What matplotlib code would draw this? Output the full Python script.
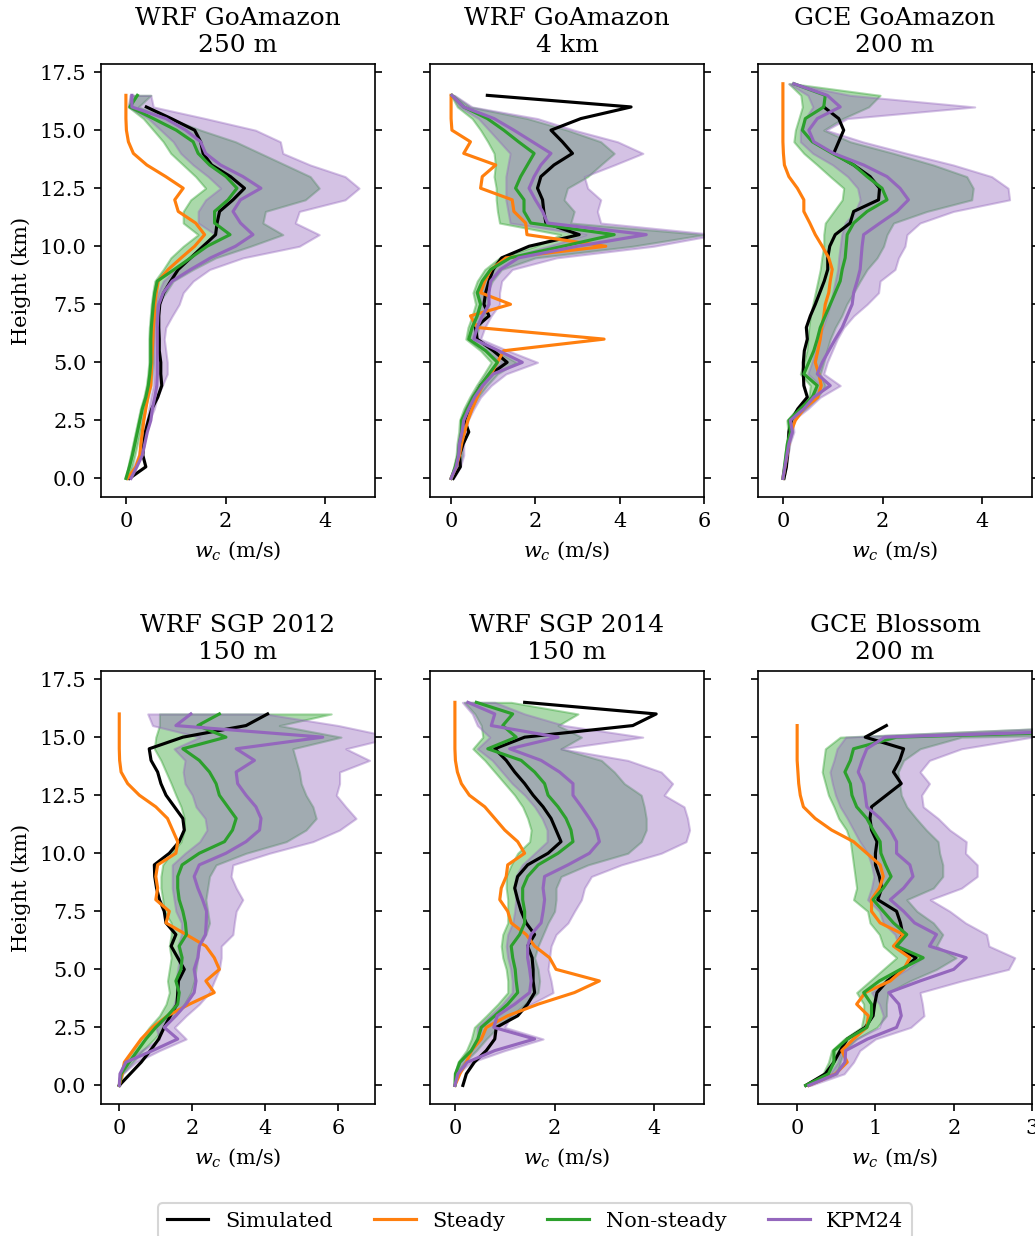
import numpy as np
import matplotlib
matplotlib.use("Agg")
import matplotlib.pyplot as plt

plt.rcParams["font.family"] = ["DejaVu Serif"]
plt.rcParams["mathtext.fontset"] = "dejavuserif"
plt.rcParams["font.size"] = 10

nan = np.nan

titles = ["WRF GoAmazon\n250 m", "WRF GoAmazon\n4 km", "GCE GoAmazon\n200 m",
          "WRF SGP 2012\n150 m", "WRF SGP 2014\n150 m", "GCE Blossom\n200 m"]
xlims = [(-0.5, 5), (-0.5, 6), (-0.5, 5), (-0.5, 7), (-0.5, 5), (-0.5, 3)]
series_labels = ["Simulated", "Steady", "Non-steady", "KPM24"]

# ---------------- WRF GoAmazon 250 m ----------------
z1 = np.arange(0, 16.51, 0.5)
sim1 = [0.07, 0.40, 0.34, 0.36, 0.39, 0.45, 0.52, 0.64, 0.72, 0.70, 0.70, 0.67, 0.67, 0.66, 0.66, 0.68, 0.76, 0.90,
        1.05, 1.30, 1.55, 1.80, 1.83, 1.88, 2.15, 2.38, 2.10, 1.72, 1.55, 1.50, 1.38, 0.91, 0.41, nan]
std1 = [0.03, 0.20, 0.28, 0.30, 0.33, 0.36, 0.40, 0.44, 0.50, 0.51, 0.52, 0.53, 0.54, 0.55, 0.57, 0.58, 0.61, 0.65,
        0.85, 1.11, 1.38, 1.58, 1.40, 1.05, 0.98, 1.15, 0.80, 0.42, 0.15, 0.05, 0.01, 0.0, 0.0, 0.0]
ns1 = [0.0, 0.07, 0.13, 0.18, 0.23, 0.28, 0.33, 0.40, 0.45, 0.48, 0.50, 0.50, 0.50, 0.51, 0.53, 0.55, 0.58, 0.63,
       0.97, 1.30, 1.63, 2.09, 1.78, 1.78, 2.05, 2.23, 2.01, 1.68, 1.45, 1.35, 1.01, 0.55, 0.08, 0.23]
kpm1 = [0.10, 0.22, 0.33, 0.38, 0.43, 0.50, 0.53, 0.58, 0.62, 0.63, 0.63, 0.63, 0.63, 0.63, 0.64, 0.66, 0.75, 0.93,
        1.30, 1.70, 2.20, 2.55, 2.30, 2.15, 2.30, 2.71, 2.35, 1.90, 1.60, 1.50, 1.20, 0.80, 0.12, 0.12]
ns_lo1 = [0.0, 0.04, 0.09, 0.14, 0.19, 0.24, 0.29, 0.36, 0.41, 0.44, 0.46, 0.46, 0.46, 0.47, 0.49, 0.51, 0.54, 0.58,
          0.75, 0.90, 1.15, 1.45, 1.15, 1.15, 1.30, 1.60, 1.40, 1.15, 0.90, 0.75, 0.55, 0.35, 0.05, 0.10]
ns_hi1 = [0.03, 0.12, 0.18, 0.23, 0.28, 0.33, 0.38, 0.45, 0.50, 0.53, 0.55, 0.55, 0.56, 0.57, 0.60, 0.63, 0.80, 0.95,
          1.35, 1.80, 2.50, 3.15, 2.75, 2.80, 3.60, 3.88, 3.70, 3.20, 2.70, 2.20, 1.50, 0.88, 0.25, 0.50]
kpm_lo1 = [0.05, 0.15, 0.25, 0.30, 0.35, 0.42, 0.46, 0.50, 0.55, 0.56, 0.56, 0.56, 0.56, 0.56, 0.57, 0.60, 0.65, 0.75,
           1.00, 1.30, 1.50, 1.80, 1.45, 1.45, 1.60, 1.90, 1.65, 1.35, 1.10, 0.95, 0.70, 0.45, 0.05, 0.08]
kpm_hi1 = [0.10, 0.20, 0.27, 0.33, 0.40, 0.47, 0.57, 0.63, 0.73, 0.83, 0.83, 0.80, 0.77, 0.80, 0.93, 1.07, 1.15, 1.35,
           1.68, 2.35, 3.48, 3.88, 3.40, 3.48, 4.40, 4.68, 4.40, 3.70, 3.15, 3.10, 2.60, 1.60, 0.55, 0.50]

# ---------------- WRF GoAmazon 4 km ----------------
z2 = np.arange(0, 16.51, 0.5)
sim2 = [0.05, 0.22, 0.20, 0.29, 0.42, 0.32, 0.42, 0.55, 0.70, 0.95, 1.33, 1.00, 0.62, 0.58, 0.90, 0.78, 0.82, 0.90,
        1.00, 1.20, 1.85, 3.04, 2.25, 2.20, 2.17, 2.05, 2.13, 2.44, 2.88, 2.64, 2.37, 3.08, 4.27, 0.86]
std2 = [0.0, 0.12, 0.20, 0.25, 0.32, 0.40, 0.50, 0.62, 0.75, 0.95, 1.10, 1.25, 3.63, 0.62, 0.46, 1.41, 0.70, 0.80,
        0.95, 1.30, 3.67, 1.80, 1.77, 1.49, 1.45, 0.70, 0.74, 1.06, 0.30, 0.46, 0.02, 0.0, 0.0, 0.0]
ns2 = [0.0, 0.10, 0.17, 0.20, 0.25, 0.25, 0.38, 0.52, 0.70, 0.90, 1.10, 0.82, 0.42, 0.50, 0.62, 0.70, 0.62, 0.74,
       0.94, 1.40, 2.65, 3.87, 1.89, 1.73, 1.73, 1.53, 1.65, 1.81, 1.97, 1.60, 1.25, 0.86, 0.30, 0.02]
kpm2 = [0.0, 0.12, 0.18, 0.20, 0.26, 0.30, 0.42, 0.56, 0.75, 1.00, 1.69, 1.13, 0.54, 0.62, 0.74, 0.90, 0.90, 0.94,
        1.17, 1.60, 3.00, 4.63, 2.29, 2.17, 2.00, 1.85, 1.97, 2.13, 2.37, 1.93, 1.49, 1.02, 0.30, 0.02]
ns_lo2 = [0.0, 0.06, 0.12, 0.14, 0.18, 0.20, 0.30, 0.44, 0.60, 0.78, 0.95, 0.70, 0.35, 0.40, 0.50, 0.58, 0.52, 0.62,
          0.80, 1.15, 2.00, 2.60, 1.15, 1.10, 1.07, 1.07, 1.02, 1.05, 1.02, 0.87, 0.70, 0.50, 0.15, 0.0]
ns_hi2 = [0.04, 0.20, 0.26, 0.26, 0.30, 0.34, 0.48, 0.64, 0.85, 1.10, 1.55, 1.05, 0.58, 0.66, 0.80, 0.90, 0.85, 0.98,
          1.20, 2.00, 4.30, 6.00, 2.84, 2.92, 2.68, 2.76, 3.24, 3.55, 3.87, 3.55, 2.76, 1.81, 0.45, 0.06]
kpm_lo2 = [0.0, 0.08, 0.14, 0.16, 0.21, 0.24, 0.34, 0.48, 0.65, 0.85, 1.20, 0.80, 0.42, 0.48, 0.58, 0.68, 0.64, 0.72,
           0.95, 1.30, 2.30, 3.20, 1.40, 1.35, 1.30, 1.30, 1.30, 1.35, 1.40, 1.15, 0.90, 0.65, 0.20, 0.0]
kpm_hi2 = [0.06, 0.22, 0.30, 0.30, 0.36, 0.40, 0.54, 0.70, 0.95, 1.30, 2.05, 1.35, 0.70, 0.80, 0.95, 1.15, 1.15, 1.20,
           1.45, 2.50, 4.80, 6.30, 3.55, 3.47, 3.55, 3.24, 3.16, 3.87, 4.55, 3.95, 2.92, 2.05, 0.50, 0.08]

# ---------------- GCE GoAmazon 200 m ----------------
z3 = np.arange(0, 17.01, 0.5)
sim3 = [0.02, 0.07, 0.09, 0.11, 0.12, 0.17, 0.30, 0.49, 0.42, 0.41, 0.41, 0.43, 0.49, 0.47, 0.55, 0.65, 0.74, 0.83,
        0.90, 0.90, 0.94, 1.05, 1.35, 1.42, 1.92, 1.94, 1.75, 1.42, 1.02, 1.12, 1.22, 1.12, 0.82, nan, nan]
std3 = [0.0, 0.04, 0.08, 0.12, 0.16, 0.25, 0.42, 0.70, 0.77, 0.72, 0.65, 0.70, 0.75, 0.78, 0.82, 0.85, 0.92, 0.95,
        0.99, 0.92, 0.79, 0.65, 0.54, 0.42, 0.42, 0.29, 0.12, 0.03, 0.01, 0.0, 0.0, 0.0, 0.0, 0.0, 0.0]
ns3 = [0.0, 0.03, 0.06, 0.09, 0.15, 0.12, 0.35, 0.59, 0.69, 0.42, 0.52, 0.62, 0.69, 0.75, 0.85, 0.95, 1.05, 1.15,
       1.19, 1.25, 1.27, 1.29, 1.42, 1.69, 2.09, 1.99, 1.69, 1.42, 0.99, 0.59, 0.39, 0.45, 0.82, 0.85, 0.22]
kpm3 = [0.0, 0.04, 0.08, 0.12, 0.19, 0.15, 0.42, 0.62, 0.95, 0.69, 0.79, 0.92, 1.05, 1.19, 1.29, 1.39, 1.42, 1.49,
        1.55, 1.57, 1.59, 1.62, 1.95, 2.29, 2.52, 2.35, 2.09, 1.62, 1.02, 0.62, 0.52, 0.69, 1.15, 0.89, 0.22]
ns_lo3 = [0.0, 0.02, 0.04, 0.07, 0.10, 0.08, 0.28, 0.52, 0.55, 0.35, 0.42, 0.48, 0.50, 0.52, 0.55, 0.60, 0.65, 0.70,
          0.75, 0.78, 0.82, 0.82, 0.85, 1.02, 1.19, 1.22, 0.95, 0.69, 0.42, 0.22, 0.25, 0.32, 0.39, 0.36, 0.12]
ns_hi3 = [0.02, 0.06, 0.10, 0.13, 0.19, 0.17, 0.45, 0.70, 0.85, 0.75, 0.82, 0.88, 0.95, 1.05, 1.18, 1.28, 1.42, 1.55,
          1.69, 1.89, 2.02, 2.09, 2.22, 2.89, 3.79, 3.82, 3.69, 3.02, 2.22, 1.35, 0.82, 1.20, 1.72, 1.95, 0.20]
kpm_lo3 = [0.0, 0.03, 0.06, 0.09, 0.14, 0.12, 0.33, 0.55, 0.75, 0.50, 0.58, 0.65, 0.72, 0.80, 0.88, 0.95, 1.00, 1.05,
           1.10, 1.12, 1.15, 1.18, 1.25, 1.45, 1.55, 1.50, 1.30, 1.00, 0.60, 0.35, 0.35, 0.45, 0.60, 0.50, 0.12]
kpm_hi3 = [0.02, 0.06, 0.10, 0.14, 0.22, 0.20, 0.50, 0.75, 1.15, 0.82, 0.89, 0.99, 1.09, 1.22, 1.42, 1.69, 1.92, 1.95,
           2.25, 2.32, 2.45, 2.49, 2.75, 3.42, 4.55, 4.52, 4.19, 3.42, 2.49, 1.60, 0.87, 1.29, 3.85, 1.35, 0.20]

# ---------------- WRF SGP 2012 ----------------
z4 = np.arange(0, 16.01, 0.5)
sim4 = [0.0, 0.30, 0.60, 0.85, 1.08, 1.23, 1.40, 1.58, 1.60, 1.62, 1.78, 1.60, 1.42, 1.55, 1.28, 1.23, 1.10, 1.02,
        0.97, 0.96, 1.37, 1.64, 1.78, 1.74, 1.51, 1.28, 1.14, 1.05, 0.87, 0.82, 1.74, 3.47, 4.06]
std4 = [0.0, 0.08, 0.14, 0.37, 0.60, 0.91, 1.32, 1.92, 2.60, 2.37, 2.74, 2.60, 2.37, 1.83, 1.28, 1.37, 1.00, 1.05,
        1.00, 1.05, 1.55, 1.60, 1.46, 1.32, 1.00, 0.55, 0.23, 0.05, 0.01, 0.0, 0.0, 0.0, 0.0]
ns4 = [0.0, 0.05, 0.27, 0.50, 0.73, 1.00, 1.32, 1.60, 1.64, 1.55, 1.69, 1.72, 1.64, 1.84, 1.81, 1.74, 1.64, 1.60,
       1.60, 1.72, 2.19, 2.88, 3.10, 3.20, 2.97, 2.74, 2.65, 2.47, 2.19, 1.74, 2.92, 2.15, 2.74]
kpm4 = [0.0, 0.02, 0.18, 0.91, 1.60, 1.23, 1.55, 1.83, 2.05, 2.10, 2.05, 2.15, 2.19, 2.36, 2.38, 2.39, 2.28, 2.15,
        2.05, 2.19, 2.92, 3.47, 3.84, 3.88, 3.74, 3.47, 3.24, 3.20, 3.70, 3.20, 5.57, 1.55, 1.96]
ns_lo4 = [0.0, 0.02, 0.14, 0.37, 0.59, 0.82, 1.10, 1.28, 1.37, 1.32, 1.37, 1.42, 1.37, 1.42, 1.42, 1.23, 1.19, 1.14,
          1.14, 1.19, 1.42, 1.69, 1.78, 1.78, 1.69, 1.55, 1.42, 1.28, 1.14, 0.96, 1.00, 1.10, 1.10]
ns_hi4 = [0.0, 0.09, 0.37, 0.64, 0.96, 1.23, 1.51, 1.78, 1.96, 2.05, 2.10, 2.15, 2.19, 2.37, 2.47, 2.42, 2.37, 2.42,
          2.47, 2.65, 3.47, 4.57, 5.11, 5.39, 5.30, 5.11, 4.98, 4.93, 4.84, 4.75, 6.07, 4.38, 5.80]
kpm_lo4 = [0.0, 0.02, 0.16, 0.60, 1.10, 1.00, 1.35, 1.50, 1.60, 1.55, 1.60, 1.65, 1.60, 1.70, 1.70, 1.55, 1.50, 1.45,
           1.45, 1.45, 1.80, 2.20, 2.40, 2.35, 2.10, 2.00, 1.80, 1.75, 1.80, 1.50, 2.20, 0.91, 0.78]
kpm_hi4 = [0.02, 0.09, 0.46, 1.10, 1.83, 1.51, 1.83, 2.19, 2.47, 2.60, 2.74, 2.79, 2.79, 3.11, 3.15, 3.20, 3.38, 3.20,
           3.06, 3.11, 4.11, 5.30, 6.03, 6.48, 6.20, 5.94, 6.03, 6.03, 6.85, 6.20, 7.50, 6.00, 4.00]

# ---------------- WRF SGP 2014 ----------------
z5 = np.arange(0, 16.51, 0.5)
sim5 = [0.16, 0.23, 0.39, 0.63, 0.80, 0.83, 1.26, 1.46, 1.60, 1.57, 1.57, 1.55, 1.46, 1.60, 1.43, 1.33, 1.26, 1.20,
        1.26, 1.46, 1.87, 2.13, 2.03, 1.93, 1.77, 1.57, 1.40, 1.20, 1.03, 0.80, 1.40, 3.57, 4.04, 1.40]
std5 = [0.0, 0.10, 0.23, 0.33, 0.53, 0.63, 1.06, 1.67, 2.40, 2.90, 2.03, 1.90, 1.60, 1.43, 1.13, 1.06, 0.90, 0.93,
        1.03, 1.06, 1.40, 1.26, 1.00, 0.80, 0.60, 0.29, 0.13, 0.05, 0.01, 0.0, 0.0, 0.0, 0.0, 0.0]
ns5 = [0.0, 0.01, 0.10, 0.33, 0.46, 0.53, 0.80, 1.06, 1.26, 1.23, 1.21, 1.16, 1.13, 1.30, 1.40, 1.40, 1.36, 1.36,
       1.46, 1.67, 2.07, 2.37, 2.33, 2.23, 2.07, 1.87, 1.80, 1.60, 1.33, 0.66, 1.23, 0.96, 1.16, 0.43]
kpm5 = [0.0, 0.06, 0.25, 0.80, 1.60, 0.78, 0.85, 1.20, 1.50, 1.53, 1.50, 1.46, 1.46, 1.53, 1.73, 1.77, 1.80, 1.77,
        1.80, 2.27, 2.70, 2.90, 2.84, 2.70, 2.54, 2.37, 2.37, 2.10, 1.73, 1.10, 2.07, 0.73, 0.80, 0.26]
ns_lo5 = [0.0, 0.0, 0.06, 0.23, 0.33, 0.39, 0.63, 0.86, 1.06, 1.06, 1.03, 0.96, 0.93, 0.96, 1.06, 1.06, 1.06, 1.03,
          1.03, 1.13, 1.26, 1.50, 1.53, 1.46, 1.36, 1.20, 1.00, 0.80, 0.60, 0.36, 0.56, 0.53, 0.40, 0.19]
ns_hi5 = [0.0, 0.03, 0.19, 0.43, 0.63, 0.86, 1.13, 1.40, 1.67, 1.70, 1.67, 1.60, 1.67, 1.77, 1.87, 2.00, 2.03, 2.03,
          2.13, 2.67, 3.47, 3.74, 3.84, 3.84, 3.80, 3.74, 3.40, 3.20, 2.94, 2.13, 2.54, 2.07, 2.47, 1.13]
kpm_lo5 = [0.0, 0.02, 0.10, 0.30, 0.45, 0.45, 0.70, 0.95, 1.15, 1.15, 1.12, 1.06, 1.03, 1.06, 1.16, 1.20, 1.22, 1.20,
           1.22, 1.35, 1.60, 1.85, 1.85, 1.75, 1.60, 1.40, 1.15, 0.95, 0.75, 0.45, 0.70, 0.45, 0.35, 0.15]
kpm_hi5 = [0.0, 0.06, 0.33, 1.00, 1.77, 1.00, 1.13, 1.53, 1.97, 1.93, 1.87, 1.90, 1.93, 2.03, 2.27, 2.40, 2.54, 2.60,
           2.74, 3.34, 4.14, 4.64, 4.71, 4.67, 4.60, 4.20, 4.37, 4.14, 3.47, 2.13, 3.77, 2.20, 1.40, 0.80]

# ---------------- GCE Blossom 200 m ----------------
z6 = np.arange(0, 15.51, 0.5)
sim6 = [0.11, 0.36, 0.47, 0.55, 0.64, 0.87, 0.97, 0.99, 1.02, 1.15, 1.35, 1.52, 1.25, 1.35, 1.32, 1.27, 1.03, 1.08,
        1.05, 1.00, 1.00, 1.02, 0.95, 0.93, 0.95, 1.14, 1.33, 1.23, 1.31, 1.36, 0.87, 1.14]
std6 = [0.15, 0.49, 0.64, 0.57, 0.72, 0.89, 0.91, 0.76, 0.87, 1.19, 1.36, 1.44, 1.23, 1.36, 1.06, 0.95, 0.95, 1.05,
        1.10, 1.06, 0.89, 0.72, 0.44, 0.23, 0.08, 0.04, 0.02, 0.01, 0.0, 0.0, 0.0, 0.0]
ns6 = [0.11, 0.40, 0.47, 0.47, 0.64, 0.89, 0.95, 0.95, 0.85, 1.05, 1.32, 1.61, 1.27, 1.40, 1.23, 1.10, 0.97, 1.10,
       1.20, 1.13, 1.07, 1.06, 0.97, 0.89, 0.76, 0.70, 0.68, 0.61, 0.68, 0.72, 1.27, 6.50]
kpm6 = [0.15, 0.50, 0.61, 0.62, 0.90, 1.27, 1.33, 1.30, 1.17, 1.57, 2.00, 2.16, 1.69, 1.78, 1.50, 1.36, 1.19, 1.36,
        1.48, 1.44, 1.27, 1.27, 1.19, 1.06, 0.89, 0.87, 0.85, 0.78, 0.83, 0.89, 1.12, 5.80]
ns_lo6 = [0.10, 0.33, 0.40, 0.44, 0.60, 0.82, 0.85, 0.85, 0.76, 0.93, 1.10, 1.27, 1.10, 1.05, 0.93, 0.90, 0.72, 0.76,
          0.74, 0.72, 0.70, 0.68, 0.63, 0.53, 0.47, 0.40, 0.36, 0.32, 0.34, 0.36, 0.55, 4.00]
ns_hi6 = [0.13, 0.51, 0.55, 0.60, 0.76, 1.02, 1.14, 1.14, 1.16, 1.44, 1.78, 2.03, 1.78, 1.86, 1.74, 1.53, 1.40, 1.74,
          1.86, 1.86, 1.82, 1.80, 1.65, 1.52, 1.40, 1.33, 1.31, 1.29, 1.36, 1.57, 2.10, 10.0]
kpm_lo6 = [0.13, 0.42, 0.52, 0.55, 0.75, 1.05, 1.10, 1.05, 0.95, 1.15, 1.40, 1.60, 1.30, 1.25, 1.10, 1.05, 0.90, 0.95,
           0.98, 0.95, 0.90, 0.80, 0.72, 0.64, 0.55, 0.49, 0.45, 0.42, 0.47, 0.51, 0.62, 4.00]
kpm_hi6 = [0.17, 0.60, 0.72, 0.80, 1.00, 1.45, 1.62, 1.60, 1.57, 2.10, 2.70, 2.78, 2.45, 2.42, 2.15, 1.95, 1.70, 2.10,
           2.30, 2.30, 2.15, 2.16, 1.95, 1.80, 1.61, 1.59, 1.69, 1.57, 1.69, 2.10, 3.00, 12.0]

panels = [
    (z1, sim1, std1, ns1, kpm1, ns_lo1, ns_hi1, kpm_lo1, kpm_hi1),
    (z2, sim2, std2, ns2, kpm2, ns_lo2, ns_hi2, kpm_lo2, kpm_hi2),
    (z3, sim3, std3, ns3, kpm3, ns_lo3, ns_hi3, kpm_lo3, kpm_hi3),
    (z4, sim4, std4, ns4, kpm4, ns_lo4, ns_hi4, kpm_lo4, kpm_hi4),
    (z5, sim5, std5, ns5, kpm5, ns_lo5, ns_hi5, kpm_lo5, kpm_hi5),
    (z6, sim6, std6, ns6, kpm6, ns_lo6, ns_hi6, kpm_lo6, kpm_hi6),
]

W, H = 1035, 1236
fig = plt.figure(figsize=(W / 150, H / 150), dpi=150)

col_left = [101, 430, 758]
ax_w = 274
row_top = [64, 671]
ax_h = 433

line_handles = None
for i, (z, sim, std, ns, kpm, nlo, nhi, klo, khi) in enumerate(panels):
    r, c = divmod(i, 3)
    ax = fig.add_axes([col_left[c] / W, 1 - (row_top[r] + ax_h) / H, ax_w / W, ax_h / H])
    ax.fill_betweenx(z, nlo, nhi, color="tab:green", alpha=0.4)
    ax.fill_betweenx(z, klo, khi, color="tab:purple", alpha=0.4)
    h_sim, = ax.plot(sim, z, color="black", lw=1.5)
    h_std, = ax.plot(std, z, color="tab:orange", lw=1.5)
    h_ns, = ax.plot(ns, z, color="tab:green", lw=1.5)
    h_kpm, = ax.plot(kpm, z, color="tab:purple", lw=1.5)
    line_handles = [h_sim, h_std, h_ns, h_kpm]
    ax.set_xlim(*xlims[i])
    ax.set_ylim(-0.8, 17.85)
    ax.set_yticks(np.arange(0, 17.6, 2.5))
    ax.yaxis.set_ticks_position("both")
    ax.set_title(titles[i], fontsize=12)
    ax.set_xlabel(r"$w_c$ (m/s)")
    if c == 0:
        ax.set_ylabel("Height (km)")
    else:
        ax.tick_params(labelleft=False)

fig.legend(line_handles, series_labels, loc="upper center", ncol=4,
           bbox_to_anchor=(0.517, 1 - 1193 / H), frameon=True)

fig.savefig("out.png", dpi=150)
